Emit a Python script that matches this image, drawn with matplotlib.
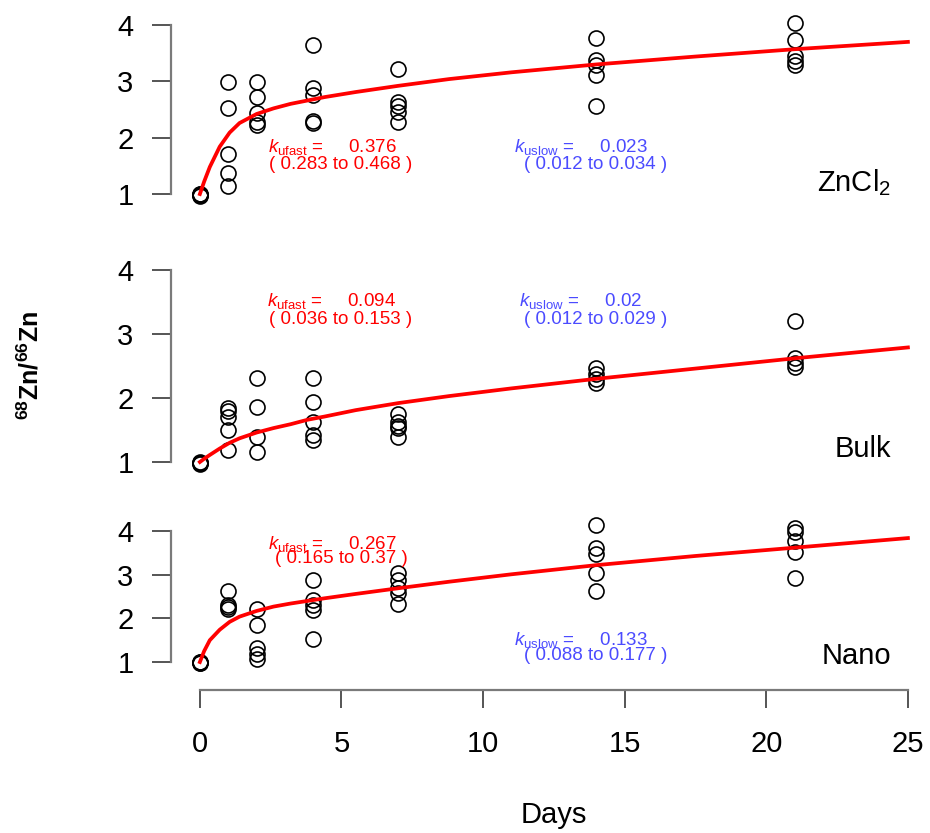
import matplotlib
matplotlib.use("Agg")
import matplotlib.pyplot as plt

plt.rcParams["font.family"] = ["Liberation Sans", "DejaVu Sans"]
plt.rcParams["mathtext.fontset"] = "custom"
plt.rcParams["mathtext.rm"] = "Liberation Sans"
plt.rcParams["mathtext.it"] = "Liberation Sans:italic"
plt.rcParams["mathtext.bf"] = "Liberation Sans:bold"

SAMPLE_DAYS = [0, 1, 2, 4, 7, 14, 21]

# observed 68Zn/66Zn ratios, one list per sampling day
ZNCL2_OBS = [[1.0, 0.99, 0.98, 1.0, 0.97],
             [2.99, 2.53, 1.71, 1.37, 1.14],
             [2.99, 2.72, 2.44, 2.28, 2.22],
             [3.65, 2.88, 2.76, 2.30, 2.26],
             [3.22, 2.63, 2.56, 2.46, 2.28],
             [3.77, 3.38, 3.29, 3.11, 2.56],
             [4.04, 3.73, 3.45, 3.36, 3.29]]
BULK_OBS = [[1.0, 0.98, 0.97, 0.99],
            [1.84, 1.80, 1.70, 1.50, 1.19],
            [2.31, 1.86, 1.39, 1.16],
            [2.31, 1.94, 1.63, 1.42, 1.34],
            [1.75, 1.62, 1.57, 1.53, 1.39],
            [2.47, 2.38, 2.30, 2.24],
            [3.20, 2.62, 2.55, 2.48]]
NANO_OBS = [[1.0, 0.98, 0.97, 0.99],
            [2.62, 2.30, 2.25, 2.22],
            [2.22, 1.85, 1.32, 1.18, 1.07],
            [2.88, 2.42, 2.30, 2.20, 1.53],
            [3.04, 2.88, 2.70, 2.58, 2.33],
            [4.13, 3.62, 3.48, 3.05, 2.63],
            [4.07, 3.97, 3.77, 3.51, 2.92]]

# fitted curves
FIT_DAYS = [0, 0.15, 0.35, 0.7, 1.05, 1.4, 2, 2.6, 3.2, 3.8, 4.4, 5.5, 7, 8.8, 11, 14, 17.5, 21, 25]
ZNCL2_FIT = [1.0, 1.22, 1.48, 1.84, 2.09, 2.26, 2.42, 2.52, 2.60, 2.66, 2.72, 2.81, 2.92,
             3.04, 3.16, 3.30, 3.44, 3.57, 3.70]
BULK_FIT = [1.0, 1.05, 1.11, 1.21, 1.30, 1.37, 1.46, 1.53, 1.59, 1.66, 1.71, 1.81, 1.92,
            2.03, 2.15, 2.30, 2.46, 2.62, 2.79]
NANO_FIT = [1.0, 1.25, 1.50, 1.74, 1.92, 2.04, 2.17, 2.27, 2.34, 2.40, 2.46, 2.56, 2.69,
            2.84, 3.01, 3.22, 3.43, 3.62, 3.84]

K_FAST = ["0.376", "0.094", "0.267"]
K_FAST_CI = ["( 0.283 to 0.468 )", "( 0.036 to 0.153 )", "( 0.165 to 0.37 )"]
K_SLOW = ["0.023", "0.02", "0.133"]
K_SLOW_CI = ["( 0.012 to 0.034 )", "( 0.012 to 0.029 )", "( 0.088 to 0.177 )"]
LABELS = ["ZnCl$_2$", "Bulk", "Nano"]

W, H = 930, 833
fig = plt.figure(figsize=(W / 100, H / 100), dpi=100)

# (bottom px, top px, ylim)
panels = [(205.3, 10.9, (0.8, 4.25)),
          (474.8, 254.0, (0.8, 4.25)),
          (690.0, 518.0, (0.359, 4.3))]
# y positions of the annotation lines (data units): fast l1, fast l2, slow l1, slow l2
ann_y = [(1.83, 1.53, 1.83, 1.53),
         (3.52, 3.22, 3.52, 3.22),
         (3.70, 3.38, 1.50, 1.16)]
lab_y = [1.2, 1.2, 1.14]

obs = [ZNCL2_OBS, BULK_OBS, NANO_OBS]
fits = [ZNCL2_FIT, BULK_FIT, NANO_FIT]
GREY = "#7a7a7a"
BLUE = "#4b4bff"
FS_ANN = 13.5

for i, (pb, pt, yl) in enumerate(panels):
    ax = fig.add_axes([171 / W, (H - pb) / H, (W - 171) / W, (pb - pt) / H])
    ax.set_xlim(-1.02, 25.78)
    ax.set_ylim(*yl)
    for d, vals in zip(SAMPLE_DAYS, obs[i]):
        ax.plot([d] * len(vals), vals, "o", ms=10.8, mfc="none", mec="black", mew=1.2,
                clip_on=False)
    ax.plot(FIT_DAYS, fits[i], color="red", lw=2.7, zorder=3, solid_joinstyle="round")

    fy1, fy2, sy1, sy2 = ann_y[i]
    ax.text(4.66, fy1, r"$k_{\rm ufast}$ =     " + K_FAST[i], color="red", fontsize=FS_ANN,
            ha="center", va="center")
    ax.text(4.98, fy2, K_FAST_CI[i], color="red", fontsize=FS_ANN, ha="center", va="center")
    ax.text(13.46, sy1, r"$k_{\rm uslow}$ =     " + K_SLOW[i], color=BLUE, fontsize=FS_ANN,
            ha="center", va="center")
    ax.text(13.98, sy2, K_SLOW_CI[i], color=BLUE, fontsize=FS_ANN, ha="center", va="center")
    ax.text(24.4, lab_y[i], LABELS[i], fontsize=21, ha="right", va="center")

    for s in ["top", "right"]:
        ax.spines[s].set_visible(False)
    ax.spines["left"].set_bounds(1, 4)
    ax.spines["left"].set_color(GREY)
    ax.spines["left"].set_linewidth(1.6)
    ax.set_yticks([1, 2, 3, 4])
    ax.tick_params(axis="y", length=14, width=1.4, color="#555555", pad=13, labelsize=21)
    if i < 2:
        ax.spines["bottom"].set_visible(False)
        ax.set_xticks([])
    else:
        ax.spines["bottom"].set_bounds(0, 25)
        ax.spines["bottom"].set_color(GREY)
        ax.spines["bottom"].set_linewidth(1.6)
        ax.set_xticks([0, 5, 10, 15, 20, 25])
        ax.tick_params(axis="x", length=13, width=1.4, color="#555555", pad=16, labelsize=21)

fig.text(554 / W, (H - 815) / H, "Days", fontsize=21, ha="center", va="center")
fig.text(30 / W, (H - 365) / H, r"$^{\mathbf{68}}\mathbf{Zn/}^{\mathbf{66}}\mathbf{Zn}$",
         fontsize=18, rotation=90, ha="center", va="center")

fig.savefig("out.png", dpi=100)
